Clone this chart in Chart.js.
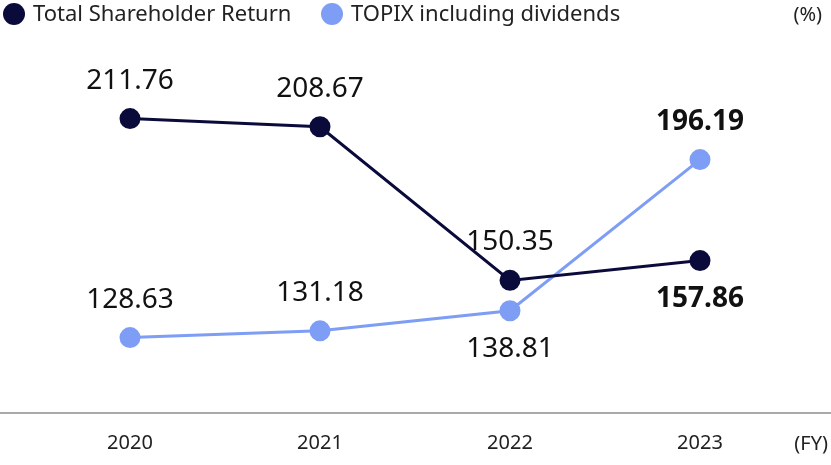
<!DOCTYPE html><html><head><script src="https://cdn.jsdelivr.net/npm/chart.js"></script>
<style>body{margin:0;background:#fff}#w{width:831px;height:465px}</style></head><body><div id="w"><canvas id="c"></canvas></div>
<script>
const categories=['2020','2021','2022','2023'];
const tsr=[211.76,208.67,150.35,157.86];
const topix=[128.63,131.18,138.81,196.19];
const tsrPos=['above','above','above','below'];
const topixPos=['above','above','below','above'];
const DARK='#0b0b3b',LIGHT='#7e9df5';
const F='"Noto Sans", sans-serif';
const labels={id:'lab',afterDatasetsDraw(ch){
 const x=ch.ctx;x.save();x.textAlign='center';x.fillStyle='#111';
 [[0,tsr,tsrPos],[1,topix,topixPos]].forEach(([di,vals,pos])=>{
  ch.getDatasetMeta(di).data.forEach((p,i)=>{
   const bold=i===3;x.font=(bold?'bold ':'')+'28px '+F;
   x.textBaseline='middle';
   x.fillText(vals[i].toFixed(2),p.x,p.y+(pos[i]==='above'?-38:38));
  });});
 x.textBaseline='middle';x.textAlign='left';x.font='22px '+F;
 [[DARK,'Total Shareholder Return',0],[LIGHT,'TOPIX including dividends',318]].forEach(([c,t,o])=>{
  x.beginPath();x.arc(14+o,14,11,0,Math.PI*2);x.fillStyle=c;x.fill();
  x.fillStyle='#222';x.fillText(t,33+o,15);});
 x.font='20px '+F;x.textAlign='right';x.fillStyle='#222';x.fillText('(%)',822,15);
 x.fillText('(FY)',828,444);
 x.strokeStyle='#555';x.lineWidth=1.2;x.beginPath();x.moveTo(0,ch.chartArea.bottom);x.lineTo(831,ch.chartArea.bottom);x.stroke();
 x.restore();}};
new Chart(document.getElementById('c'),{type:'line',
 data:{labels:categories,datasets:[
  {data:tsr,borderColor:DARK,backgroundColor:DARK,borderWidth:3,pointRadius:9,pointHoverRadius:9},
  {data:topix,borderColor:LIGHT,backgroundColor:LIGHT,borderWidth:3,pointRadius:9,pointHoverRadius:9}]},
 options:{responsive:true,maintainAspectRatio:false,animation:false,
  layout:{padding:{top:40,left:35,right:36,bottom:0}},
  plugins:{legend:{display:false},tooltip:{enabled:false}},
  scales:{x:{offset:true,grid:{display:false},border:{display:false},ticks:{color:'#222',font:{size:20,family:F},padding:10}},
   y:{display:false,min:100,max:241.6}}},
 plugins:[labels]});
</script></body></html>
